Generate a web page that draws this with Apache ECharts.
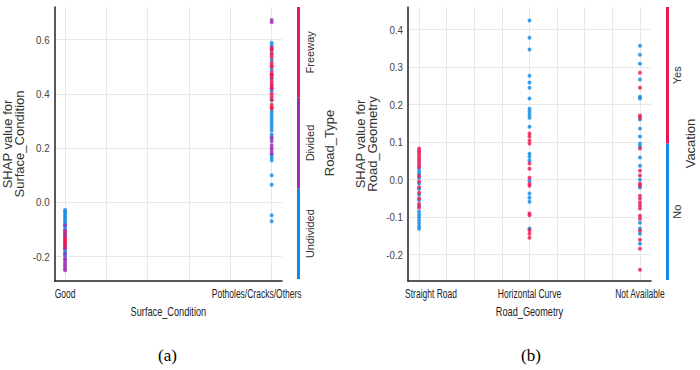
<!DOCTYPE html>
<html>
<head>
<meta charset="utf-8">
<script src="https://cdn.jsdelivr.net/npm/echarts@6/dist/echarts.min.js"></script>
<style>
  html, body { margin: 0; padding: 0; background: #fff; }
  #chart { width: 700px; height: 370px; }
</style>
</head>
<body>
<div id="chart"></div>
<script>
// categories
const surfaceCats = ['Good', 'Potholes/Cracks/Others'];
const roadTypeCats = ['Undivided', 'Divided', 'Freeway'];
const geometryCats = ['Straight Road', 'Horizontal Curve', 'Not Available'];
const vacationCats = ['No', 'Yes'];

// (a) SHAP values for Surface_Condition, split by Road_Type
const goodUndivided = [-0.028, -0.035, -0.042, -0.05, -0.057, -0.064, -0.072, -0.08, -0.09, -0.1, -0.115, -0.125, -0.16, -0.175, -0.185, -0.195];
const goodDivided = [-0.085, -0.105, -0.12, -0.155, -0.17, -0.19, -0.205, -0.212, -0.22, -0.228, -0.236, -0.244, -0.25];
const goodFreeway = [-0.11, -0.13, -0.135, -0.14, -0.145, -0.15, -0.165];
const potholesUndivided = [0.588, 0.578, 0.55, 0.525, 0.49, 0.455, 0.41, 0.375, 0.335, 0.325, 0.315, 0.305, 0.295, 0.285, 0.275, 0.265, 0.25, 0.235, 0.175, 0.165, 0.155, 0.1, 0.065, -0.048, -0.07];
const potholesDivided = [0.672, 0.664, 0.565, 0.47, 0.42, 0.24, 0.225, 0.21, 0.2, 0.19, 0.18];
const potholesFreeway = [0.57, 0.56, 0.545, 0.535, 0.515, 0.505, 0.5, 0.48, 0.47, 0.46, 0.445, 0.435, 0.43, 0.42, 0.4, 0.39, 0.38, 0.36, 0.35, 0.345];

// (b) SHAP values for Road_Geometry, split by Vacation
const straightNo = [0.03, 0.022, 0.015, 0.005, -0.01, -0.025, -0.04, -0.055, -0.07, -0.085, -0.093, -0.1, -0.108, -0.116, -0.124, -0.131];
const straightYes = [0.083, 0.077, 0.071, 0.065, 0.058, 0.052, 0.046, 0.04, 0.034, 0.01, -0.005, -0.02, -0.035, -0.05, -0.065, -0.075];
const curveNo = [0.424, 0.378, 0.347, 0.277, 0.259, 0.245, 0.216, 0.189, 0.181, 0.173, 0.165, 0.141, 0.069, 0.061, 0.051, -0.003, -0.037, -0.048, -0.059, -0.13];
const curveYes = [0.123, 0.115, 0.104, 0.096, 0.043, 0.029, 0.005, -0.011, -0.016, -0.09, -0.095, -0.135, -0.144, -0.155];
const naNo = [0.357, 0.333, 0.309, 0.267, 0.221, 0.216, 0.16, 0.136, 0.115, 0.096, 0.089, 0.059, 0.037, 0.0, -0.021, -0.115, -0.13, -0.144, -0.171];
const naYes = [0.285, 0.245, 0.171, 0.165, 0.083, 0.024, 0.011, -0.011, -0.016, -0.043, -0.051, -0.061, -0.069, -0.077, -0.096, -0.104, -0.136, -0.16, -0.184, -0.24];

const BLUE = '#0f8ae6';
const PURPLE = '#9b2db6';
const RED = '#ec1650';
const roadTypeColors = [BLUE, PURPLE, RED];
const vacationColors = [BLUE, RED];

const ARIAL = '"Liberation Sans", Arial, sans-serif';
const SERIF = '"Liberation Serif", serif';
const GRID = '#e8e8e8';
// the source figure is squeezed horizontally; tick numbers a bit less than the words
const SQUASH_WORDS = 0.68;
const SQUASH_NUMS = 0.85;

// splitLine colours: only every n-th tick (starting at `first`) gets a visible line
function gridColors(n, first) {
  const arr = [];
  for (let i = 0; i < n; i++) arr.push(i === first ? GRID : 'rgba(0,0,0,0)');
  return arr;
}

function pts(col, vals) {
  return vals.map(v => [col, v]);
}

function yLabel(step) {
  return v => {
    const k = Math.round(v * 100);
    return k % step === 0 ? (k / 100).toFixed(1) : '';
  };
}

const axisLine = { show: true, onZero: false, lineStyle: { color: '#222', width: 1.5 } };
const tickFont = { fontFamily: ARIAL, fontSize: 12.5, color: '#222' };

const el = document.getElementById('chart');
const chart = echarts.init(el, null, { renderer: 'svg' });

const option = {
  animation: false,
  title: [
    { text: '(a)', left: 158, top: 347, padding: 0, textStyle: { fontFamily: SERIF, fontSize: 17, fontWeight: 'normal', color: '#000' } },
    { text: '(b)', left: 521, top: 347, padding: 0, textStyle: { fontFamily: SERIF, fontSize: 17, fontWeight: 'normal', color: '#000' } }
  ],
  grid: [
    { left: 46, top: 7, width: 236, height: 274 },
    { left: 408, top: 7, width: 243, height: 274 },
    { left: 297, top: 7, width: 3, height: 272 },
    { left: 666, top: 7, width: 3, height: 273 }
  ],
  xAxis: [
    {
      gridIndex: 0, type: 'value', min: -0.05, max: 1.05, interval: 0.05,
      axisLine: axisLine, axisTick: { show: false },
      splitLine: { show: true, showMinLine: true, showMaxLine: true, lineStyle: { color: gridColors(4, 1), width: 1 } },
      axisLabel: Object.assign({}, tickFont, {
        margin: 6,
        formatter: v => {
          const k = Math.round(v * 100);
          if (k === 0) return surfaceCats[0];
          if (k === 100) return '{pr|' + surfaceCats[1] + '}';
          return '';
        },
        rich: { pr: { fontFamily: ARIAL, fontSize: 12.5, color: '#222', padding: [0, 30, 0, 0] } }
      }),
      name: 'Surface_Condition', nameLocation: 'middle', nameGap: 22,
      nameTextStyle: { fontFamily: ARIAL, fontSize: 13.5, color: '#222' }
    },
    {
      gridIndex: 1, type: 'value', min: -0.1, max: 2.1, interval: 0.05,
      axisLine: axisLine, axisTick: { show: false },
      splitLine: { show: true, showMinLine: true, showMaxLine: true, lineStyle: { color: gridColors(5, 2), width: 1 } },
      axisLabel: Object.assign({}, tickFont, {
        margin: 6,
        formatter: v => {
          const k = Math.round(v * 100);
          if (k === 0) return '{pl|' + geometryCats[0] + '}';
          if (k === 100) return geometryCats[1];
          if (k === 200) return geometryCats[2];
          return '';
        },
        rich: { pl: { fontFamily: ARIAL, fontSize: 12.5, color: '#222', padding: [0, 0, 0, 24] } }
      }),
      name: 'Road_Geometry', nameLocation: 'middle', nameGap: 22,
      nameTextStyle: { fontFamily: ARIAL, fontSize: 13.5, color: '#222' }
    },
    { gridIndex: 2, type: 'value', min: 0, max: 1, show: false },
    { gridIndex: 3, type: 'value', min: 0, max: 1, show: false }
  ],
  yAxis: [
    {
      gridIndex: 0, type: 'value', min: -0.29, max: 0.72, interval: 0.01,
      axisLine: axisLine, axisTick: { show: false },
      splitLine: { show: true, showMinLine: true, showMaxLine: true, lineStyle: { color: gridColors(20, 9), width: 1 } },
      axisLabel: Object.assign({}, tickFont, { margin: 5, fontSize: 11.5, color: '#444', formatter: yLabel(20) }),
      name: 'SHAP value for\nSurface_Condition', nameLocation: 'middle', nameGap: 21,
      nameTextStyle: { fontFamily: ARIAL, fontSize: 13, lineHeight: 12, color: '#333' }
    },
    {
      gridIndex: 1, type: 'value', min: -0.27, max: 0.46, interval: 0.01,
      axisLine: axisLine, axisTick: { show: false },
      splitLine: { show: true, showMinLine: true, showMaxLine: true, lineStyle: { color: gridColors(10, 7), width: 1 } },
      axisLabel: Object.assign({}, tickFont, { margin: 5, fontSize: 11.5, color: '#444', formatter: yLabel(10) }),
      name: 'SHAP value for\nRoad_Geometry', nameLocation: 'middle', nameGap: 25,
      nameTextStyle: { fontFamily: ARIAL, fontSize: 13, lineHeight: 12, color: '#333' }
    },
    {
      gridIndex: 2, type: 'category', data: roadTypeCats, position: 'right',
      axisLine: { show: false }, axisTick: { show: false }, splitLine: { show: false },
      axisLabel: { rotate: 90, margin: 4, interval: 0, fontFamily: ARIAL, fontSize: 11, color: '#333' },
      name: 'Road_Type', nameLocation: 'middle', nameGap: 23,
      nameTextStyle: { fontFamily: ARIAL, fontSize: 13, color: '#333' }
    },
    {
      gridIndex: 3, type: 'category', data: vacationCats, position: 'right',
      axisLine: { show: false }, axisTick: { show: false }, splitLine: { show: false },
      axisLabel: { rotate: 90, margin: 2, interval: 0, fontFamily: ARIAL, fontSize: 11, color: '#333' },
      name: 'Vacation', nameLocation: 'middle', nameGap: 15,
      nameTextStyle: { fontFamily: ARIAL, fontSize: 13, color: '#333' }
    }
  ],
  series: [
    { type: 'scatter', xAxisIndex: 0, yAxisIndex: 0, symbolSize: 4, itemStyle: { color: BLUE },
      data: pts(0, goodUndivided).concat(pts(1, potholesUndivided)) },
    { type: 'scatter', xAxisIndex: 0, yAxisIndex: 0, symbolSize: 4, itemStyle: { color: PURPLE },
      data: pts(0, goodDivided).concat(pts(1, potholesDivided)) },
    { type: 'scatter', xAxisIndex: 0, yAxisIndex: 0, symbolSize: 4, itemStyle: { color: RED },
      data: pts(0, goodFreeway).concat(pts(1, potholesFreeway)) },
    { type: 'scatter', xAxisIndex: 1, yAxisIndex: 1, symbolSize: 4, itemStyle: { color: BLUE },
      data: pts(0, straightNo).concat(pts(1, curveNo), pts(2, naNo)) },
    { type: 'scatter', xAxisIndex: 1, yAxisIndex: 1, symbolSize: 4, itemStyle: { color: RED },
      data: pts(0, straightYes).concat(pts(1, curveYes), pts(2, naYes)) },
    // colour bars
    { type: 'bar', xAxisIndex: 2, yAxisIndex: 2, barWidth: '100%', silent: true,
      data: roadTypeCats.map((c, i) => ({ value: 1, itemStyle: { color: roadTypeColors[i] } })) },
    { type: 'bar', xAxisIndex: 3, yAxisIndex: 3, barWidth: '100%', silent: true,
      data: vacationCats.map((c, i) => ({ value: 1, itemStyle: { color: vacationColors[i] } })) }
  ]
};

chart.setOption(option);

// squeeze horizontal (non-rotated, sans) labels like the source figure
function condense() {
  el.querySelectorAll('text').forEach(t => {
    if (t.getAttribute('data-cond')) return;
    const tr = t.getAttribute('transform') || '';
    if (/rotate/.test(tr)) return;
    const m = tr.match(/matrix\(([^)]+)\)/);
    if (m) {
      const p = m[1].split(/[\s,]+/).map(Number);
      if (Math.abs(p[1]) > 1e-3) return;
    }
    const st = (t.getAttribute('style') || '') + (t.getAttribute('font-family') || '');
    if (/Serif/.test(st)) return;
    const w = t.getComputedTextLength();
    if (w > 0) {
      const f = /^-?\d\.\d$/.test(t.textContent.trim()) ? SQUASH_NUMS : SQUASH_WORDS;
      t.setAttribute('textLength', (w * f).toFixed(2));
      t.setAttribute('lengthAdjust', 'spacingAndGlyphs');
      t.setAttribute('data-cond', '1');
    }
  });
}
condense();
chart.on('finished', condense);
</script>
</body>
</html>
